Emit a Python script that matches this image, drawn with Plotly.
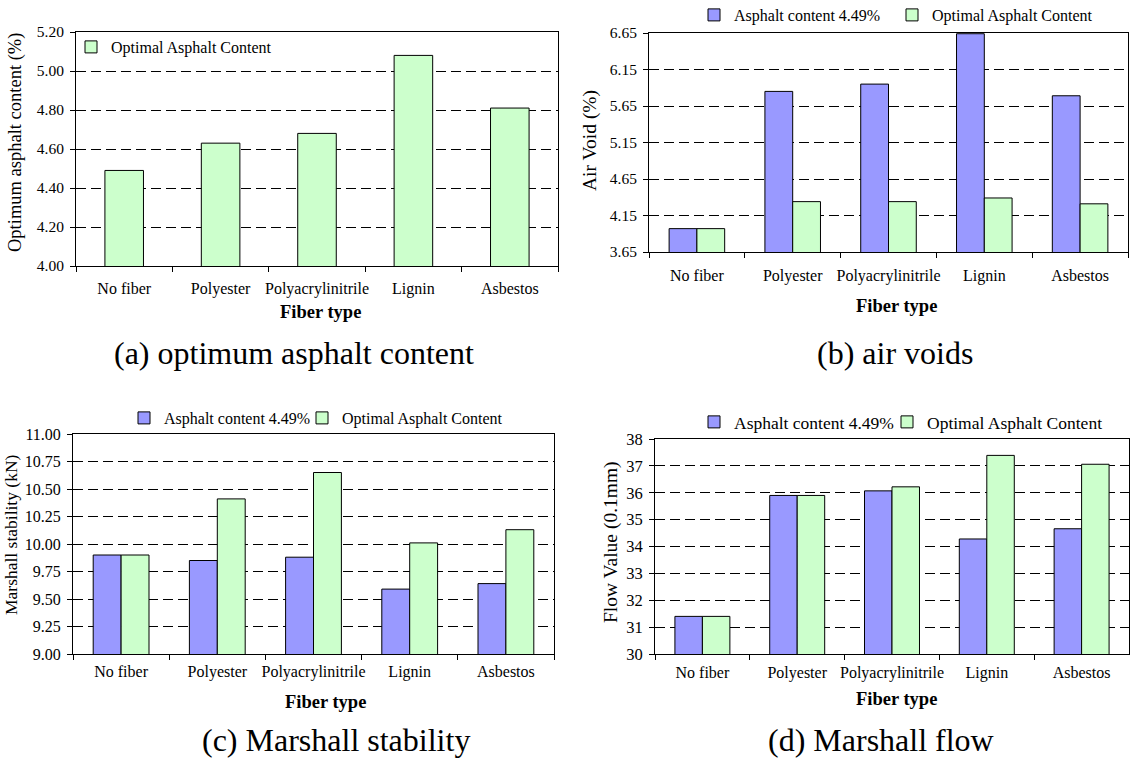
import plotly.graph_objects as go

# ---- data -------------------------------------------------------------
fibers = ["No fiber", "Polyester", "Polyacrylinitrile", "Lignin", "Asbestos"]

optimum_ac = [4.49, 4.63, 4.68, 5.08, 4.81]

air_void_449 = [3.97, 5.85, 5.95, 6.64, 5.79]
air_void_oac = [3.97, 4.34, 4.34, 4.39, 4.31]

stability_449 = [9.90, 9.85, 9.88, 9.59, 9.64]
stability_oac = [9.90, 10.41, 10.65, 10.01, 10.13]

flow_449 = [31.4, 35.9, 36.07, 34.28, 34.66]
flow_oac = [31.4, 35.9, 36.22, 37.39, 37.06]

NAME_449 = "Asphalt content 4.49%"
NAME_OAC = "Optimal Asphalt Content"

# ---- styling ----------------------------------------------------------
W, H = 1131, 759
FONT = "Liberation Serif"
PURPLE = "#9999FF"
GREEN = "#CCFFCC"
PAIR_W = 0.29
SINGLE_W = 0.40


def xdom(left, right):
    return [left / W, right / W]


def ydom(top, bottom):
    return [1 - bottom / H, 1 - top / H]


fig = go.Figure()

# panel definitions: axis suffix, plot box (px), y range, tick step, fonts
panels = [
    dict(ax="", box=(76, 558, 32, 266), yr=[4.0, 5.2], dt=0.2, fmt=".2f",
         ytick_fs=15.5, standoff=8,
         ytitle="Optimum asphalt content (%)", ytitle_xy=(16, 143), ytitle_fs=18.5,
         xtitle_xy=(321, 312), caption="(a) optimum asphalt content", cap_xy=(294, 353)),
    dict(ax="2", box=(649, 1128, 33, 252), yr=[3.65, 6.65], dt=0.5, fmt=".2f",
         ytick_fs=15.5, standoff=9,
         ytitle="Air Void (%)", ytitle_xy=(590, 141), ytitle_fs=19.5,
         xtitle_xy=(896, 306), caption="(b) air voids", cap_xy=(895, 353)),
    dict(ax="3", box=(73, 554, 434, 654), yr=[9.0, 11.0], dt=0.25, fmt=".2f",
         ytick_fs=16, standoff=3,
         ytitle="Marshall stability (kN)", ytitle_xy=(11, 535), ytitle_fs=17.5,
         xtitle_xy=(325, 702), caption="(c) Marshall stability", cap_xy=(336, 740)),
    dict(ax="4", box=(655, 1129, 439, 654), yr=[30, 38], dt=1, fmt="d",
         ytick_fs=16.5, standoff=4,
         ytitle="Flow Value (0.1mm)", ytitle_xy=(611, 542), ytitle_fs=19.5,
         xtitle_xy=(896, 699), caption="(d) Marshall flow", cap_xy=(881, 740)),
]

# bars
fig.add_trace(go.Bar(
    x=fibers, y=optimum_ac, name=NAME_OAC, width=SINGLE_W, offset=-SINGLE_W / 2,
    marker=dict(color=GREEN, line=dict(color="black", width=1)),
    xaxis="x", yaxis="y", legend="legend", showlegend=True))

# (axis suffix, series at 4.49 %, series at OAC, legend for each series)
pairs = [
    ("2", air_void_449, air_void_oac, "legend2", "legend3"),
    ("3", stability_449, stability_oac, "legend4", "legend5"),
    ("4", flow_449, flow_oac, "legend6", "legend7"),
]
for ax, v449, voac, leg_a, leg_b in pairs:
    fig.add_trace(go.Bar(
        x=fibers, y=v449, name=NAME_449, width=PAIR_W, offset=-PAIR_W,
        marker=dict(color=PURPLE, line=dict(color="black", width=1)),
        xaxis="x" + ax, yaxis="y" + ax, legend=leg_a, showlegend=True))
    fig.add_trace(go.Bar(
        x=fibers, y=voac, name=NAME_OAC, width=PAIR_W, offset=0,
        marker=dict(color=GREEN, line=dict(color="black", width=1)),
        xaxis="x" + ax, yaxis="y" + ax, legend=leg_b, showlegend=True))

layout = dict(
    width=W, height=H,
    margin=dict(l=0, r=0, t=0, b=0, autoexpand=False),
    paper_bgcolor="white", plot_bgcolor="white",
    font=dict(family=FONT, color="black"),
    barmode="group",
    showlegend=True,
    annotations=[],
)

for p in panels:
    l, r, t, b = p["box"]
    xa = "xaxis" + p["ax"]
    ya = "yaxis" + p["ax"]
    layout[xa] = dict(
        domain=xdom(l, r), anchor="y" + p["ax"], type="category",
        showline=True, linecolor="black", linewidth=1, mirror=True,
        ticks="outside", ticklen=5, tickcolor="black", tickson="boundaries",
        tickangle=0,
        showgrid=False, tickfont=dict(family=FONT, size=16, color="black"),
        ticklabelstandoff=p["standoff"], fixedrange=True,
    )
    layout[ya] = dict(
        domain=ydom(t, b), anchor="x" + p["ax"], range=p["yr"],
        tick0=p["yr"][0], dtick=p["dt"], tickformat=p["fmt"],
        showline=True, linecolor="black", linewidth=1, mirror=True,
        ticks="outside", ticklen=5, tickcolor="black", ticklabelstandoff=3,
        showgrid=True, gridcolor="black", gridwidth=1, griddash="10px,5px",
        zeroline=False,
        tickfont=dict(family=FONT, size=p["ytick_fs"], color="black"),
        fixedrange=True,
    )
    # axis titles
    tx, ty = p["ytitle_xy"]
    layout["annotations"].append(dict(
        text=p["ytitle"], x=tx / W, y=1 - ty / H, xref="paper", yref="paper",
        textangle=-90, showarrow=False, xanchor="center", yanchor="middle",
        font=dict(family=FONT, size=p["ytitle_fs"], color="black")))
    fx, fy = p["xtitle_xy"]
    layout["annotations"].append(dict(
        text="<b>Fiber type</b>", x=fx / W, y=1 - fy / H,
        xref="paper", yref="paper", showarrow=False,
        xanchor="center", yanchor="middle",
        font=dict(family=FONT, size=18.5, color="black")))
    # panel caption
    cx, cy = p["cap_xy"]
    layout["annotations"].append(dict(
        text=p["caption"], x=cx / W, y=1 - cy / H, xref="paper", yref="paper",
        showarrow=False, xanchor="center", yanchor="middle",
        font=dict(family=FONT, size=32, color="black")))


def legend_at(x_px, y_px, size):
    return dict(orientation="h", xref="paper", yref="paper",
                xanchor="left", yanchor="middle", bgcolor="rgba(0,0,0,0)",
                itemwidth=30, visible=True,
                x=x_px / W, y=1 - y_px / H,
                font=dict(family=FONT, size=size, color="black"))


layout["legend"] = legend_at(71, 47, 16)
layout["legend2"] = legend_at(694, 15, 16)
layout["legend3"] = legend_at(892, 15, 16)
layout["legend4"] = legend_at(124, 418, 16)
layout["legend5"] = legend_at(302, 418, 16)
layout["legend6"] = legend_at(694, 422, 17.5)
layout["legend7"] = legend_at(887, 422, 17.5)

fig.update_layout(**layout)
fig.write_html("out.html")
